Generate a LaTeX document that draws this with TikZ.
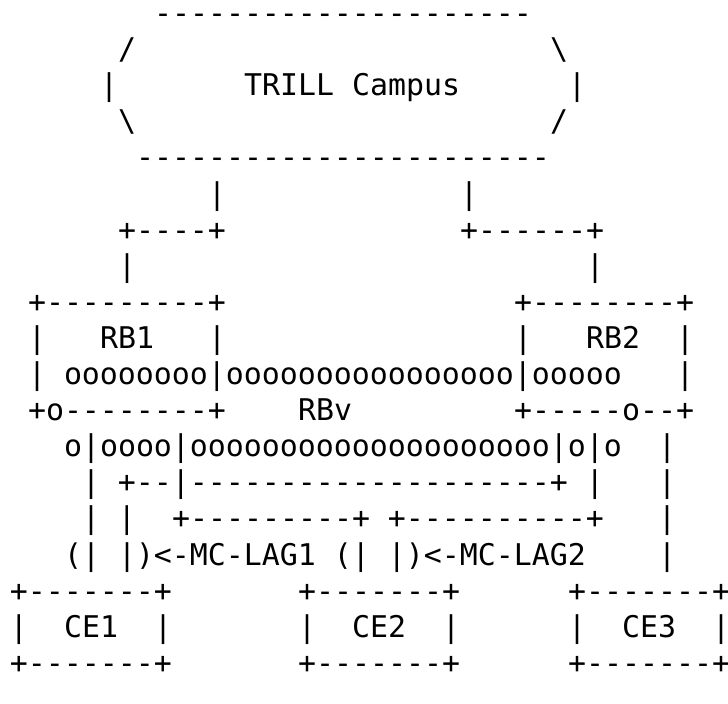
\documentclass[tikz,border=0pt]{standalone}
\usepackage{fontspec}
\setmonofont{DejaVu Sans Mono}
\tikzset{
  txt/.style={anchor=base west, inner sep=0pt, outer sep=0pt,
    font=\ttfamily\fontsize{14.95pt}{18pt}\selectfont}
}
% row #1, column #2 (0-based), text #3
\newcommand\tx[3]{\node[txt] (r#1c#2) at ({10+18*#2},{703-23.5-36.1*(#1-1)}) {#3};}
\begin{document}
\begin{tikzpicture}[x=0.5pt,y=0.5pt]
\useasboundingbox (0,0) rectangle (728,703);
\tx{1}{8}{---------------------}
\tx{2}{6}{/}
\tx{2}{30}{\textbackslash}
\tx{3}{5}{|}
\tx{3}{13}{TRILL Campus}
\tx{3}{31}{|}
\tx{4}{6}{\textbackslash}
\tx{4}{30}{/}
\tx{5}{7}{-----------------------}
\tx{6}{11}{|}
\tx{6}{25}{|}
\tx{7}{6}{+----+}
\tx{7}{25}{+------+}
\tx{8}{6}{|}
\tx{8}{32}{|}
\tx{9}{1}{+---------+}
\tx{9}{28}{+--------+}
\tx{10}{1}{|}
\tx{10}{5}{RB1}
\tx{10}{11}{|}
\tx{10}{28}{|}
\tx{10}{32}{RB2}
\tx{10}{37}{|}
\tx{11}{1}{| oooooooo|oooooooooooooooo|ooooo}
\tx{11}{37}{|}
\tx{12}{1}{+o--------+}
\tx{12}{16}{RBv}
\tx{12}{28}{+-----o--+}
\tx{13}{3}{o|oooo|oooooooooooooooooooo|o|o}
\tx{13}{36}{|}
\tx{14}{4}{| +--|--------------------+ |}
\tx{14}{36}{|}
\tx{15}{4}{| |}
\tx{15}{9}{+---------+ +----------+}
\tx{15}{36}{|}
\tx{16}{3}{(| |)<-MC-LAG1 (| |)<-MC-LAG2}
\tx{16}{36}{|}
\tx{17}{0}{+-------+}
\tx{17}{16}{+-------+}
\tx{17}{31}{+-------+}
\tx{18}{0}{|}
\tx{18}{3}{CE1}
\tx{18}{8}{|}
\tx{18}{16}{|}
\tx{18}{19}{CE2}
\tx{18}{24}{|}
\tx{18}{31}{|}
\tx{18}{34}{CE3}
\tx{18}{39}{|}
\tx{19}{0}{+-------+}
\tx{19}{16}{+-------+}
\tx{19}{31}{+-------+}
\end{tikzpicture}
\end{document}
